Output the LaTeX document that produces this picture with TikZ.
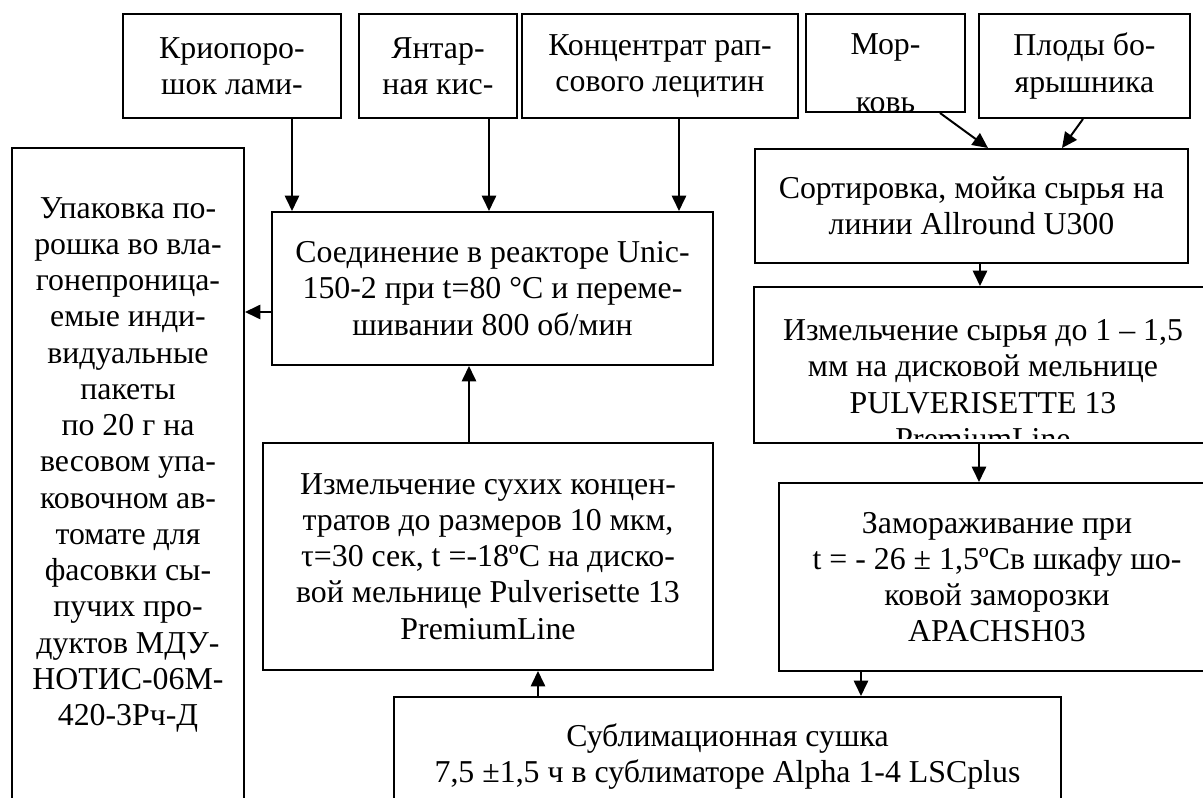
\documentclass[tikz,border=0pt]{standalone}
\usepackage{fontspec}
\setmainfont{Liberation Serif}
\usetikzlibrary{arrows.meta}
\newcommand{\boxfont}{\fontsize{14.5}{16.5}\selectfont}
\tikzset{
  box/.style={draw=black, line width=0.9pt, inner sep=0pt, align=center, font=\boxfont},
  txt/.style={inner sep=0pt, align=center, font=\boxfont},
  arr/.style={draw=black, line width=0.9pt, -{Triangle[length=7pt,width=6.5pt]}},
}

\begin{document}
\begin{tikzpicture}[x=0.016cm, y=-0.016cm]
  \def\pxu{0.016cm}
  \useasboundingbox (0,0) rectangle (1203,798);
  \clip (0,0) rectangle (1203,798);
  % raw materials
  \node[box, minimum width=218*\pxu, minimum height=104*\pxu] (crio) at (232,66) {Криопоро-\\шок лами-};
  \node[box, minimum width=158*\pxu, minimum height=104*\pxu] (yantar) at (438,66) {Янтар-\\ная кис-};
  \node[box, minimum width=276*\pxu, minimum height=104*\pxu] (conc) at (660,66) {Концентрат рап-\\сового лецитин};
  \node[box, minimum width=159*\pxu, minimum height=98*\pxu,
    path picture={\node[txt, anchor=north] (mortext) at ([yshift=-9*\pxu]path picture bounding box.north) {Мор-\\[10pt]ковь};}] (mor) at (885.5,63) {};
  \node[box, minimum width=211*\pxu, minimum height=104*\pxu] (plody) at (1084.5,66) {Плоды бо-\\ярышника};
  % left column
  \node[box, minimum width=232*\pxu, minimum height=700*\pxu] (pack) at (128,498) {};
  \node[txt, anchor=north] (packtext) at (128,197) {Упаковка по-\\рошка во вла-\\гонепроница-\\емые инди-\\видуальные\\пакеты\\по 20 г на\\весовом упа-\\ковочном ав-\\томате для\\фасовки сы-\\пучих про-\\дуктов МДУ-\\НОТИС-06М-\\420-3Рч-Д};
  % middle column
  \node[box, minimum width=441*\pxu, minimum height=153*\pxu] (mix) at (492.5,288.5) {Соединение в реакторе Unic-\\150-2 при t=80 °C и переме-\\шивании 800 об/мин};
  \node[box, minimum width=450*\pxu, minimum height=227*\pxu] (grind2) at (488,556.5) {Измельчение сухих концен-\\тратов до размеров 10 мкм,\\τ=30 сек, t =-18ºC на диско-\\вой мельнице Pulverisette 13\\PremiumLine};
  \node[box, minimum width=667*\pxu, minimum height=119*\pxu] (dry) at (727.5,756.5) {Сублимационная сушка\\7,5 ±1,5 ч в сублиматоре Alpha 1-4 LSCplus};
  % right column
  \node[box, minimum width=433*\pxu, minimum height=114*\pxu] (sort) at (971.5,206) {Сортировка, мойка сырья на\\линии Allround U300};
  \node[box, minimum width=458*\pxu, minimum height=156*\pxu,
    path picture={\clip ([yshift=4*\pxu]path picture bounding box.south west) rectangle (path picture bounding box.north east);
      \node[txt, anchor=north] (grindtext) at ([yshift=-18.6*\pxu]path picture bounding box.north) {Измельчение сырья до 1 – 1,5\\мм на дисковой мельнице\\PULVERISETTE 13\\PremiumLine};}] (grind1) at (983,365) {};
  \node[box, minimum width=436*\pxu, minimum height=188*\pxu] (freeze) at (997,577) {Замораживание при\\t = - 26 ± 1,5ºCв шкафу шо-\\ковой заморозки\\APACHSH03};
  % arrows
  \coordinate (a1) at ([xshift=60*\pxu]crio.south);
  \coordinate (a2) at ([xshift=51*\pxu]yantar.south);
  \coordinate (a3) at ([xshift=19*\pxu]conc.south);
  \draw[arr] (a1) -- (a1 |- mix.north);
  \draw[arr] (a2) -- (a2 |- mix.north);
  \draw[arr] (a3) -- (a3 |- mix.north);
  \draw[arr] ([xshift=54.5*\pxu]mor.south) -- ([xshift=16.5*\pxu]sort.north);
  \draw[arr] ([xshift=-1.5*\pxu]plody.south) -- ([xshift=90.5*\pxu]sort.north);
  \coordinate (a4) at ([xshift=8.5*\pxu]sort.south);
  \draw[arr] (a4) -- (a4 |- grind1.north);
  \coordinate (a5) at ([xshift=-4*\pxu]grind1.south);
  \draw[arr] (a5) -- (a5 |- freeze.north);
  \coordinate (a6) at ([xshift=-136*\pxu]freeze.south);
  \draw[arr] (a6) -- (a6 |- dry.north);
  \coordinate (a7) at ([xshift=-189.5*\pxu]dry.north);
  \draw[arr] (a7) -- (a7 |- grind2.south);
  \coordinate (a8) at ([xshift=-19*\pxu]grind2.north);
  \draw[arr] (a8) -- (a8 |- mix.south);
  \coordinate (a9) at ([yshift=-23.5*\pxu]mix.west);
  \draw[arr] (a9) -- (a9 -| pack.east);
\end{tikzpicture}
\end{document}
